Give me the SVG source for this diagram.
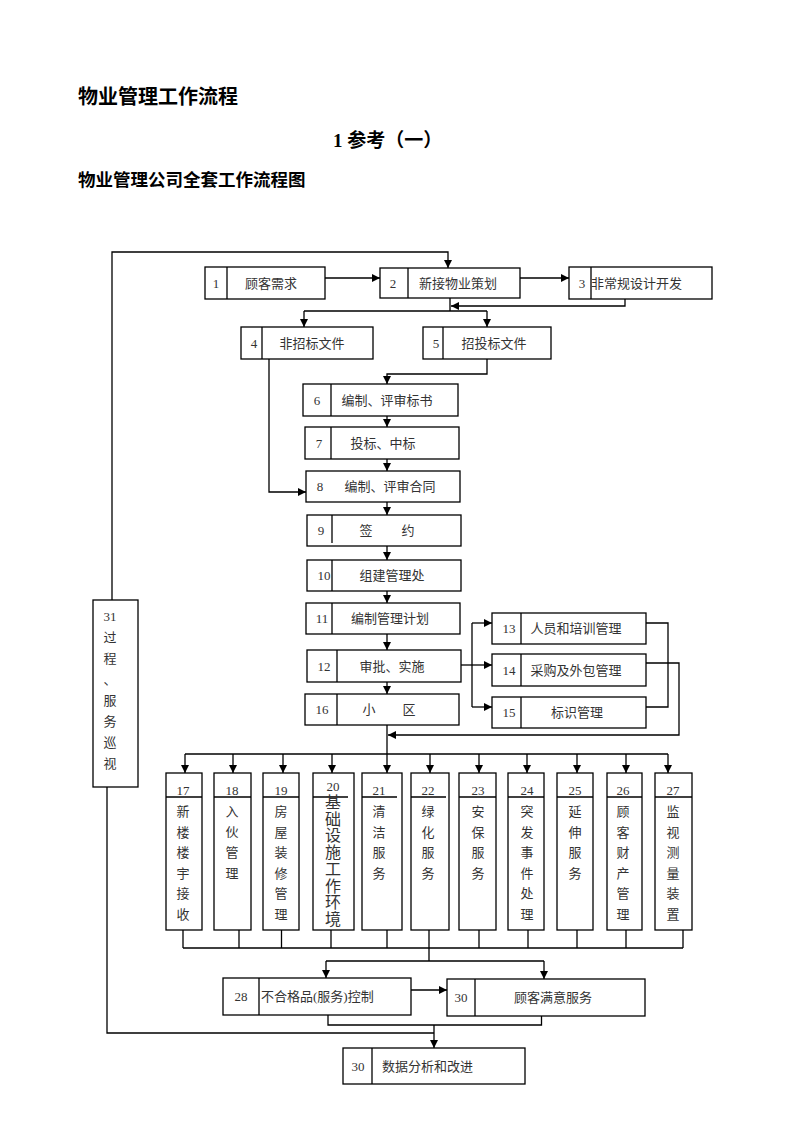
<svg xmlns="http://www.w3.org/2000/svg" width="793" height="1122" viewBox="0 0 793 1122">
<style>
.box{fill:#fff;stroke:#000;stroke-width:1.3}
.ln{fill:none;stroke:#000;stroke-width:1.3}
.ar{fill:none;stroke:#000;stroke-width:1.3;marker-end:url(#ah)}
.t{font-family:"Liberation Serif","Noto Sans CJK SC",serif;font-size:13px;fill:#333}
.big{font-size:16px}
.m{text-anchor:middle}
.h{font-family:"Noto Sans CJK SC","Liberation Sans",sans-serif;font-weight:bold;fill:#000}
</style>
<defs>
<marker id="ah" viewBox="0 0 10 10" refX="10" refY="5" markerWidth="9" markerHeight="8" markerUnits="userSpaceOnUse" orient="auto"><path d="M0,0 L10,5 L0,10 z" fill="#000"/></marker>
</defs>
<rect width="793" height="1122" fill="#fff"/>
<text class="h" x="78" y="104" font-size="20">物业管理工作流程</text>
<text class="h" x="333" y="147" font-size="19"><tspan font-family="Liberation Serif">1 </tspan>参考（一）</text>
<text class="h" x="78" y="186" font-size="17.5">物业管理公司全套工作流程图</text>

<g id="connectors">
<path class="ar" d="M112,600 V252 H448 V268"/>
<path class="ar" d="M325,278 H380"/>
<path class="ar" d="M520,278 H569"/>
<path class="ar" d="M625,299 V306 H451"/>
<path class="ln" d="M450,298 V311 M304,311 H487"/>
<path class="ar" d="M304,311 V327"/>
<path class="ar" d="M487,311 V327"/>
<path class="ar" d="M487,359 V374 H387 V384"/>
<path class="ar" d="M269,359 V492 H306"/>
<path class="ar" d="M387,416 V427"/>
<path class="ar" d="M387,459 V471"/>
<path class="ar" d="M387,502 V515"/>
<path class="ar" d="M387,546 V560"/>
<path class="ar" d="M387,591 V603"/>
<path class="ar" d="M387,634 V650"/>
<path class="ar" d="M387,682 V694"/>
<path class="ar" d="M461,665 H492"/>
<path class="ln" d="M472,623 V707"/>
<path class="ar" d="M472,623 H492"/>
<path class="ar" d="M472,707 H492"/>
<path class="ln" d="M646,623 H668 V707 H646"/>
<path class="ar" d="M646,663 H679 V735 H388"/>
<path class="ar" d="M387,725 V773"/>
<path class="ln" d="M185,754 H668"/>
<path class="ar" d="M185,754 V773"/>
<path class="ar" d="M233,754 V773"/>
<path class="ar" d="M283,754 V773"/>
<path class="ar" d="M332,754 V773"/>
<path class="ar" d="M430,754 V773"/>
<path class="ar" d="M479,754 V773"/>
<path class="ar" d="M527,754 V773"/>
<path class="ar" d="M577,754 V773"/>
<path class="ar" d="M626,754 V773"/>
<path class="ar" d="M668,754 V773"/>
<path class="ln" d="M183,930 V948 M239,930 V948 M281.5,930 V948 M331,930 V948 M387,930 V948 M429,930 V948 M479,930 V948 M528,930 V948 M577,930 V948 M626,930 V948 M683,930 V948 M183,948 H683 M429,948 V961 M326,961 H544"/>
<path class="ar" d="M326,961 V978"/>
<path class="ar" d="M544,961 V979"/>
<path class="ar" d="M411,990 H447"/>
<path class="ln" d="M328,1015 V1025 H541.5 V1016"/>
<path class="ar" d="M434,1025 V1048"/>
<path class="ln" d="M107,787 V1033 H434"/>
</g>

<g id="n1"><rect class="box" x="205" y="267" width="120" height="32"/><path class="ln" d="M227,267 V299"/><text class="t m" x="216" y="288">1</text><text class="t m" x="271" y="288">顾客需求</text></g>
<g id="n2"><rect class="box" x="380" y="268" width="140" height="30"/><path class="ln" d="M408,268 V298"/><text class="t m" x="393" y="288">2</text><text class="t m" x="458" y="288">新接物业策划</text></g>
<g id="n3"><rect class="box" x="569" y="267" width="143" height="32"/><path class="ln" d="M591,267 V299"/><text class="t m" x="582" y="288">3</text><text class="t" x="591" y="288">非常规设计开发</text></g>
<g id="n4"><rect class="box" x="241" y="327" width="132" height="32"/><path class="ln" d="M262,327 V359"/><text class="t m" x="254" y="348">4</text><text class="t m" x="312" y="348">非招标文件</text></g>
<g id="n5"><rect class="box" x="423" y="327" width="128" height="32"/><path class="ln" d="M443,327 V359"/><text class="t m" x="436" y="348">5</text><text class="t m" x="494" y="348">招投标文件</text></g>
<g id="n6"><rect class="box" x="303" y="384" width="155" height="32"/><path class="ln" d="M331,384 V416"/><text class="t m" x="317" y="405">6</text><text class="t m" x="387" y="405">编制、评审标书</text></g>
<g id="n7"><rect class="box" x="305" y="427" width="154" height="32"/><path class="ln" d="M331,427 V459"/><text class="t m" x="319" y="448">7</text><text class="t m" x="383" y="448">投标、中标</text></g>
<g id="n8"><rect class="box" x="306" y="471" width="154" height="31"/><text class="t m" x="320" y="491">8</text><text class="t m" x="390" y="491">编制、评审合同</text></g>
<g id="n9"><rect class="box" x="307" y="515" width="154" height="31"/><path class="ln" d="M332,515 V543"/><text class="t m" x="321" y="535">9</text><text class="t m" x="366" y="535">签</text><text class="t m" x="408" y="535">约</text></g>
<g id="n10"><rect class="box" x="307" y="560" width="154" height="31"/><path class="ln" d="M332,560 V591"/><text class="t m" x="324" y="580">10</text><text class="t m" x="392" y="580">组建管理处</text></g>
<g id="n11"><rect class="box" x="306" y="603" width="154" height="31"/><path class="ln" d="M332,603 V634"/><text class="t m" x="322" y="623">11</text><text class="t m" x="390" y="623">编制管理计划</text></g>
<g id="n12"><rect class="box" x="307" y="650" width="154" height="32"/><path class="ln" d="M337,650 V682"/><text class="t m" x="324" y="671">12</text><text class="t m" x="392" y="671">审批、实施</text></g>
<g id="n16"><rect class="box" x="305" y="694" width="154" height="31"/><path class="ln" d="M337,694 V725"/><text class="t m" x="322" y="714">16</text><text class="t m" x="369" y="714">小</text><text class="t m" x="409" y="714">区</text></g>
<g id="n13"><rect class="box" x="492" y="613" width="154" height="31"/><path class="ln" d="M521,613 V644"/><text class="t m" x="509" y="633">13</text><text class="t m" x="576" y="633">人员和培训管理</text></g>
<g id="n14"><rect class="box" x="492" y="654" width="154" height="32"/><path class="ln" d="M521,654 V686"/><text class="t m" x="509" y="675">14</text><text class="t m" x="576" y="675">采购及外包管理</text></g>
<g id="n15"><rect class="box" x="492" y="697" width="154" height="31"/><path class="ln" d="M521,697 V728"/><text class="t m" x="509" y="717">15</text><text class="t m" x="577" y="717">标识管理</text></g>
<g id="n31"><rect class="box" x="93" y="600" width="45" height="187"/><text class="t m" x="110" y="621">31<tspan x="110" y="642">过</tspan><tspan x="110" y="663">程</tspan><tspan x="110" y="684">、</tspan><tspan x="110" y="705">服</tspan><tspan x="110" y="726">务</tspan><tspan x="110" y="747">巡</tspan><tspan x="110" y="768">视</tspan></text></g>

<g id="n17"><rect class="box" x="166" y="773" width="36" height="157"/><path class="ln" d="M166,797 H202"/><text class="t m" x="183" y="795">17<tspan x="183" y="816">新</tspan><tspan x="183" y="837">楼</tspan><tspan x="183" y="857">楼</tspan><tspan x="183" y="878">宇</tspan><tspan x="183" y="898">接</tspan><tspan x="183" y="919">收</tspan></text></g>
<g id="n18"><rect class="box" x="214" y="773" width="37" height="157"/><path class="ln" d="M214,797 H251"/><text class="t m" x="232" y="795">18<tspan x="232" y="816">入</tspan><tspan x="232" y="837">伙</tspan><tspan x="232" y="857">管</tspan><tspan x="232" y="878">理</tspan></text></g>
<g id="n19"><rect class="box" x="263" y="773" width="36" height="157"/><path class="ln" d="M263,797 H299"/><text class="t m" x="281" y="795">19<tspan x="281" y="816">房</tspan><tspan x="281" y="837">屋</tspan><tspan x="281" y="857">装</tspan><tspan x="281" y="878">修</tspan><tspan x="281" y="898">管</tspan><tspan x="281" y="919">理</tspan></text></g>
<g id="n20"><rect class="box" x="313" y="773" width="41" height="157"/><path class="ln" d="M313,797 H348"/><text class="t m" x="333" y="791">20</text><text class="t m big" x="333" y="808">基<tspan x="333" y="824.7">础</tspan><tspan x="333" y="841.4">设</tspan><tspan x="333" y="858.1">施</tspan><tspan x="333" y="874.8">工</tspan><tspan x="333" y="891.5">作</tspan><tspan x="333" y="908.2">环</tspan><tspan x="333" y="924.9">境</tspan></text></g>
<g id="n21"><rect class="box" x="362" y="773" width="40" height="157"/><path class="ln" d="M362,797 H397"/><text class="t m" x="379" y="795">21<tspan x="379" y="816">清</tspan><tspan x="379" y="837">洁</tspan><tspan x="379" y="857">服</tspan><tspan x="379" y="878">务</tspan></text></g>
<g id="n22"><rect class="box" x="411" y="773" width="38" height="157"/><path class="ln" d="M411,797 H446"/><text class="t m" x="428" y="795">22<tspan x="428" y="816">绿</tspan><tspan x="428" y="837">化</tspan><tspan x="428" y="857">服</tspan><tspan x="428" y="878">务</tspan></text></g>
<g id="n23"><rect class="box" x="459" y="773" width="37" height="157"/><path class="ln" d="M459,797 H496"/><text class="t m" x="478" y="795">23<tspan x="478" y="816">安</tspan><tspan x="478" y="837">保</tspan><tspan x="478" y="857">服</tspan><tspan x="478" y="878">务</tspan></text></g>
<g id="n24"><rect class="box" x="508" y="773" width="36" height="157"/><path class="ln" d="M508,797 H544"/><text class="t m" x="527" y="795">24<tspan x="527" y="816">突</tspan><tspan x="527" y="837">发</tspan><tspan x="527" y="857">事</tspan><tspan x="527" y="878">件</tspan><tspan x="527" y="898">处</tspan><tspan x="527" y="919">理</tspan></text></g>
<g id="n25"><rect class="box" x="557" y="773" width="36" height="157"/><path class="ln" d="M557,797 H593"/><text class="t m" x="575" y="795">25<tspan x="575" y="816">延</tspan><tspan x="575" y="837">伸</tspan><tspan x="575" y="857">服</tspan><tspan x="575" y="878">务</tspan></text></g>
<g id="n26"><rect class="box" x="607" y="773" width="35" height="157"/><path class="ln" d="M607,797 H642"/><text class="t m" x="623" y="795">26<tspan x="623" y="816">顾</tspan><tspan x="623" y="837">客</tspan><tspan x="623" y="857">财</tspan><tspan x="623" y="878">产</tspan><tspan x="623" y="898">管</tspan><tspan x="623" y="919">理</tspan></text></g>
<g id="n27"><rect class="box" x="655" y="773" width="37" height="157"/><path class="ln" d="M655,797 H692"/><text class="t m" x="673" y="795">27<tspan x="673" y="816">监</tspan><tspan x="673" y="837">视</tspan><tspan x="673" y="857">测</tspan><tspan x="673" y="878">量</tspan><tspan x="673" y="898">装</tspan><tspan x="673" y="919">置</tspan></text></g>

<g id="n28"><rect class="box" x="223" y="978" width="188" height="37"/><path class="ln" d="M259,978 V1015"/><text class="t m" x="241" y="1001">28</text><text class="t" x="261" y="1001">不合格品(服务)控制</text></g>
<g id="n30a"><rect class="box" x="447" y="979" width="198" height="37"/><path class="ln" d="M475,979 V1016"/><text class="t m" x="461" y="1002">30</text><text class="t m" x="553" y="1002">顾客满意服务</text></g>
<g id="n30b"><rect class="box" x="343" y="1048" width="182" height="36"/><path class="ln" d="M372,1048 V1084"/><text class="t m" x="358" y="1071">30</text><text class="t" x="382" y="1071">数据分析和改进</text></g>
</svg>
